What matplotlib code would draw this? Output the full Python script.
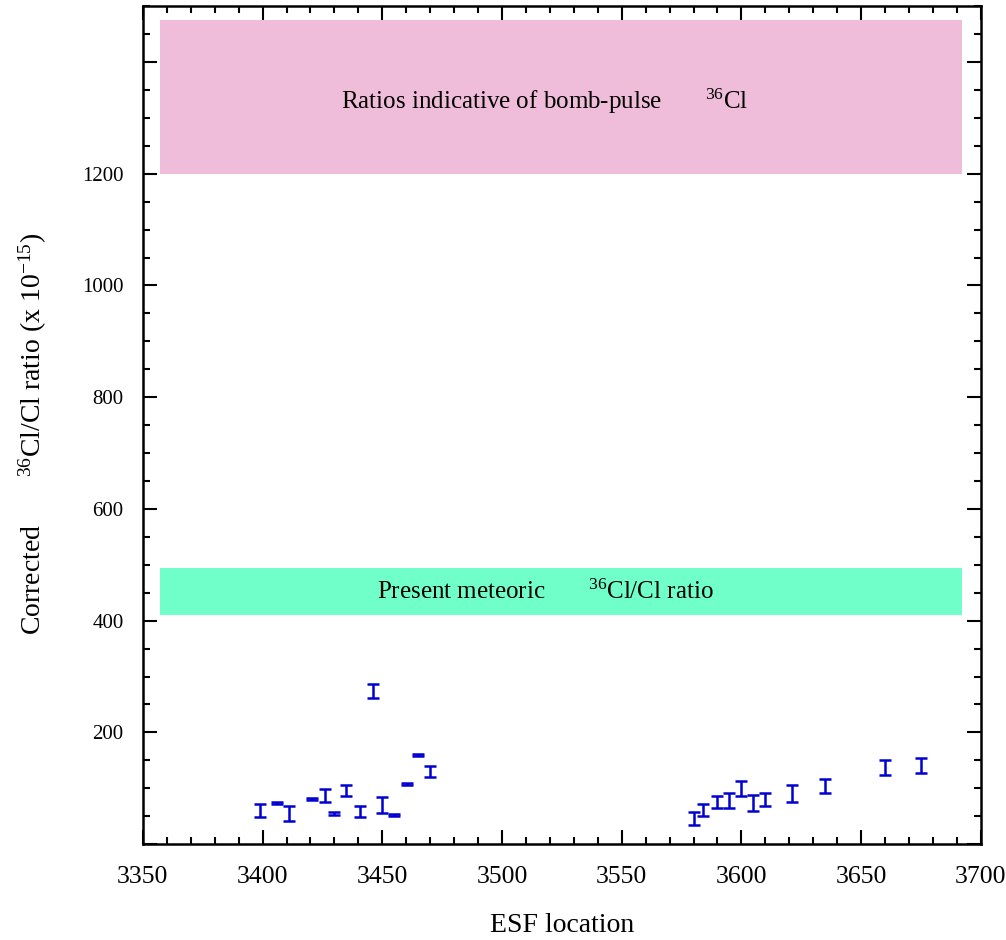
import matplotlib
matplotlib.use("Agg")
import matplotlib.pyplot as plt
from matplotlib.ticker import MultipleLocator

plt.rcParams['font.family'] = ['Liberation Serif', 'DejaVu Serif']
plt.rcParams['mathtext.fontset'] = 'custom'
plt.rcParams['mathtext.rm'] = 'Liberation Serif'
plt.rcParams['mathtext.it'] = 'Liberation Serif'

# ESF location and corrected 36Cl/Cl ratios (x 10^-15)
ubicacion = [3399, 3406, 3411, 3420.5, 3426, 3430, 3435, 3440.5, 3446, 3450,
             3455, 3460.5, 3465, 3470, 3580, 3584, 3590, 3595, 3600, 3605,
             3610, 3621, 3635, 3660, 3675]
razon = [60, 74, 55, 81, 87, 55, 96, 59, 274, 70,
         52, 108, 160, 130, 46, 61, 76, 78, 100, 74,
         80, 91, 104, 137, 141]
error = [11, 2, 13, 2, 12, 2, 10, 10, 12, 14,
         2, 2, 2, 10, 11, 11, 11, 13, 13, 14,
         12, 15, 13, 13, 13]

banda_bomba = (1200, 1475)
banda_meteorica = (410, 495)
banda_x = (3357, 3692)

fig = plt.figure(figsize=(10.06, 9.4), dpi=100)
ax = fig.add_axes([0.142, 0.102, 0.833, 0.8915])

ax.fill_between(banda_x, banda_bomba[0], banda_bomba[1], color='#efbdd9', lw=0, zorder=0)
ax.fill_between(banda_x, banda_meteorica[0], banda_meteorica[1], color='#70ffc9', lw=0, zorder=0)

ax.text(3518, 1330, r'Ratios indicative of bomb-pulse       $^{36}$Cl',
        ha='center', va='center', fontsize=18)
ax.text(3518, 451, r'Present meteoric       $^{36}$Cl/Cl ratio',
        ha='center', va='center', fontsize=18)

ax.errorbar(ubicacion, razon, yerr=error, fmt='none', ecolor='#0000d0',
            elinewidth=1.8, capsize=4.2, capthick=1.8, zorder=3)

ax.set_xlim(3350, 3700)
ax.set_ylim(0, 1500)
ax.set_xticks([3350, 3400, 3450, 3500, 3550, 3600, 3650, 3700])
ax.set_yticks([0, 200, 400, 600, 800, 1000, 1200, 1400])
ax.set_yticklabels(['', '200', '400', '600', '800', '1000', '1200', ''])
ax.xaxis.set_minor_locator(MultipleLocator(10))
ax.yaxis.set_minor_locator(MultipleLocator(50))
ax.tick_params(which='both', direction='in', top=True, right=True, width=1.5)
ax.tick_params(which='major', length=10)
ax.tick_params(which='minor', length=5)
ax.tick_params(axis='x', labelsize=18.5, pad=16)
ax.tick_params(axis='y', labelsize=15, pad=14)
for s in ax.spines.values():
    s.set_linewidth(1.8)

ax.set_xlabel('ESF location', fontsize=20, labelpad=18)
ax.set_ylabel(r'Corrected       $^{36}$Cl/Cl ratio (x 10$^{-15}$)', fontsize=20)
ax.yaxis.set_label_coords(-0.112, 0.49)

fig.savefig('out.png', dpi=100)
